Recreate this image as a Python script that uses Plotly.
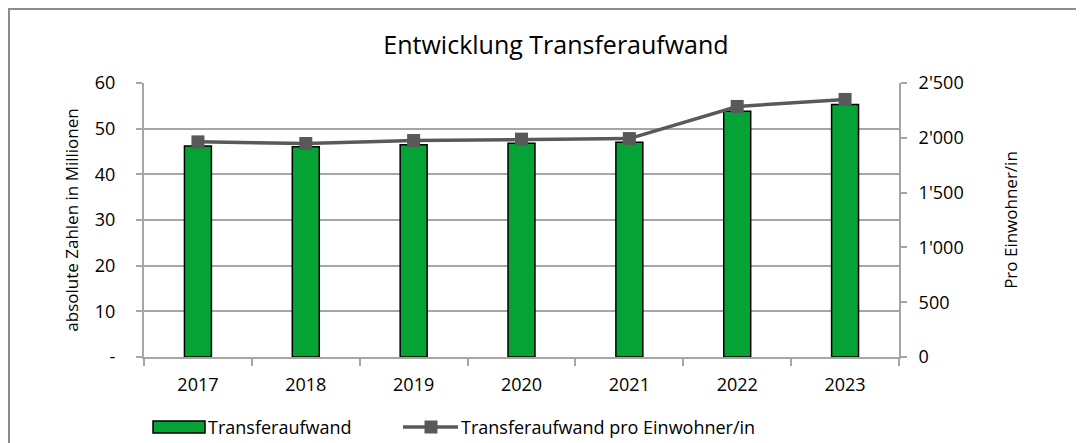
import plotly.graph_objects as go

years = ["2017", "2018", "2019", "2020", "2021", "2022", "2023"]
transfer_mio = [46.2, 46.05, 46.5, 46.8, 47.0, 53.8, 55.3]
pro_einwohner = [1963, 1948, 1975, 1988, 1993, 2286, 2350]

left_ticks = [0, 10, 20, 30, 40, 50, 60]
left_text = ["-", "10", "20", "30", "40", "50", "60"]
right_ticks = [0, 500, 1000, 1500, 2000, 2500]
right_text = ["0", "500", "1'000", "1'500", "2'000", "2'500"]

bar_name = "Transferaufwand"
line_name = "Transferaufwand pro Einwohner/in"

FONT = "Open Sans"
GRID = "#a6a6a6"
BAR = "#05a235"
LINE = "#595959"

# the page body adds an 8px offset; work in screen pixels and convert
OFF = 8
W, H = 1084 - OFF, 443 - OFF
L, R, T, B = 144 - OFF, 899 - OFF, 83 - OFF, 357 - OFF
PW, PH = R - L, B - T


def px(xs):
    return (xs - OFF - L) / PW


def py(ys):
    return (B - (ys - OFF)) / PH


fig = go.Figure()
fig.add_trace(go.Bar(
    x=years, y=transfer_mio, name=bar_name,
    marker=dict(color=BAR, line=dict(color="#000000", width=1.5)),
    width=0.25, yaxis="y",
))
fig.add_trace(go.Scatter(
    x=years, y=pro_einwohner, name=line_name,
    mode="lines+markers", yaxis="y2",
    line=dict(color=LINE, width=3.5),
    marker=dict(symbol="square", size=13, color=LINE),
))

fig.update_layout(
    width=W, height=H,
    margin=dict(l=L, r=W - R, t=T, b=H - B, autoexpand=False),
    paper_bgcolor="white", plot_bgcolor="white",
    font=dict(family=FONT, size=18, color="#000000"),
    title=dict(text="Entwicklung Transferaufwand", x=px(556), xanchor="center",
               xref="paper", y=1 - (45 - OFF) / H, yanchor="middle",
               font=dict(size=25, family=FONT)),
    showlegend=False,
    xaxis=dict(type="category", showline=True, linecolor=GRID, linewidth=2,
               ticks="outside", tickson="boundaries", ticklen=7, tickcolor=GRID,
               tickwidth=1.5, showgrid=False, ticklabelstandoff=10,
               automargin=False, tickfont=dict(size=18)),
    yaxis=dict(range=[0, 60], tickvals=left_ticks, ticktext=left_text,
               showline=True, linecolor=GRID, linewidth=2,
               showgrid=True, gridcolor=GRID, gridwidth=1.5,
               ticks="outside", ticklen=6, tickcolor=GRID, tickwidth=1.5,
               zeroline=False, ticklabelstandoff=17, automargin=False,
               tickfont=dict(size=18),
               title=dict(text="absolute Zahlen in Millionen", standoff=12,
                          font=dict(size=17))),
    yaxis2=dict(range=[0, 2500], tickvals=right_ticks, ticktext=right_text,
                overlaying="y", side="right", showline=True, linecolor=GRID,
                linewidth=2, showgrid=False, ticks="outside", ticklen=6,
                tickcolor=GRID, tickwidth=1.5, zeroline=False, ticklabelstandoff=8,
                automargin=False, tickfont=dict(size=18),
                title=dict(text="Pro Einwohner/in", standoff=42,
                           font=dict(size=17))),
)

# outer frame (figure edge)
fig.add_shape(type="rect", xref="paper", yref="paper",
              x0=px(9), x1=px(1100), y0=py(460), y1=py(9),
              line=dict(color="#8c8c8c", width=2), fillcolor="rgba(0,0,0,0)",
              layer="below")

# custom legend
fig.add_shape(type="rect", xref="paper", yref="paper",
              x0=px(153), x1=px(205), y0=py(433), y1=py(421),
              line=dict(color="#000000", width=1.5), fillcolor=BAR)
fig.add_annotation(text=bar_name, xref="paper", yref="paper",
                   x=px(206), y=py(427), xanchor="left", yanchor="middle",
                   showarrow=False, font=dict(size=18, family=FONT))
fig.add_shape(type="line", xref="paper", yref="paper",
              x0=px(403), x1=px(458), y0=py(427), y1=py(427),
              line=dict(color=LINE, width=3.5))
fig.add_shape(type="rect", xref="paper", yref="paper",
              x0=px(424.5), x1=px(437.5), y0=py(433.5), y1=py(420.5),
              line=dict(color=LINE, width=0), fillcolor=LINE)
fig.add_annotation(text=line_name, xref="paper", yref="paper",
                   x=px(459), y=py(427), xanchor="left", yanchor="middle",
                   showarrow=False, font=dict(size=18, family=FONT))

fig.write_html("out.html")
